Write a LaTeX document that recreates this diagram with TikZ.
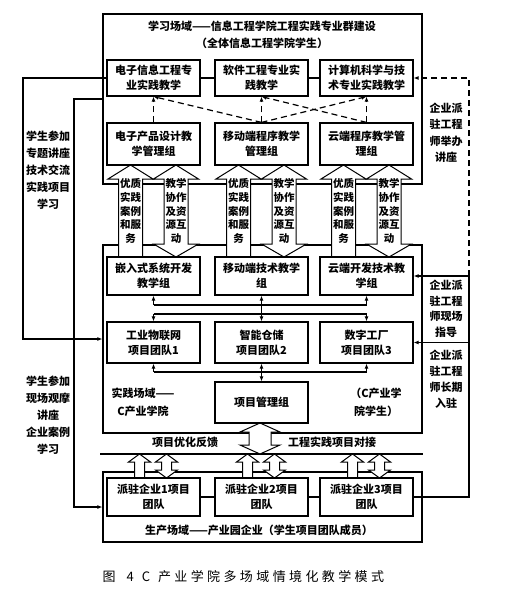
\documentclass[tikz,border=0pt]{standalone}
\usepackage{fontspec}
\setmainfont{Noto Sans CJK SC}
\usetikzlibrary{arrows.meta}

\begin{document}
\begin{tikzpicture}[x=1pt, y=-1pt, line width=1.2pt,
  font=\bfseries\fontsize{11}{15}\selectfont,
  field/.style={draw, minimum width=319pt, inner sep=0pt},
  unit/.style={draw, fill=white, minimum width=93pt, minimum height=38pt, align=center, inner sep=1pt},
  hollow/.style={draw, fill=white, line width=1pt, line join=miter},
  tip/.style={-{Latex[length=5pt,width=4pt]}},
  dtip/.style={{Latex[length=5pt,width=4pt]}-{Latex[length=5pt,width=4pt]}},
  guide/.style={tip, dash pattern=on 6pt off 4pt},
  side/.style={align=center, inner sep=0pt, font=\bfseries\fontsize{11}{17}\selectfont},
  inarrow/.style={align=center, inner sep=0pt, font=\bfseries\fontsize{10.5}{13.8}\selectfont}]
\useasboundingbox (0,0) rectangle (510,591);

% ---- fields --------------------------------------------------------------
\node[field, minimum height=170pt] (learning) at (262.5,99) {};
\node[field, minimum height=188pt] (practice) at (262.5,339) {};
\node[field, minimum height=70pt] (production) at (262.5,507) {};
\draw (100,454) -- (423,454);

\node (title1) at (262,26) {学习场域——信息工程学院工程实践专业群建设};
\node (title2) at (262,43) {（全体信息工程学院学生）};
\node[align=center, font=\bfseries\fontsize{11}{18}\selectfont] (praclbl) at (143,402) {实践场域——\\C产业学院};
\node[align=center, font=\bfseries\fontsize{11}{18}\selectfont] (pracstu) at (376,402) {（C产业学\\院学生）};
\node (prodlbl) at (259,530) {生产场域——产业园企业（学生项目团队成员）};

% ---- hollow arrows between the fields ------------------------------------
\foreach \cx/\n in {153.5/a, 261.5/b, 366.5/c} {
  \filldraw[hollow] (\cx-35,257) -- (\cx-35,179) -- (\cx-45.5,179) -- (\cx-23,165)
    -- (\cx-0.5,179) -- (\cx-11,179) -- (\cx-11,257);
  \filldraw[hollow] (\cx+10.5,179) -- (\cx+10.5,244) -- (\cx,244) -- (\cx+22.5,257)
    -- (\cx+45,244) -- (\cx+34.5,244) -- (\cx+34.5,179) -- (\cx+45,179)
    -- (\cx+22.5,165) -- (\cx,179) -- cycle;
  \node[inarrow] (case\n) at (\cx-23,211) {优质\\实践\\案例\\和服\\务};
  \node[inarrow] (share\n) at (\cx+22.5,211) {教学\\协作\\及资\\源互\\动};
  % small arrows to the enterprise teams
  \filldraw[hollow] (\cx-19,478) -- (\cx-19,462) -- (\cx-25,462) -- (\cx-14,454)
    -- (\cx-3,462) -- (\cx-9,462) -- (\cx-9,478);
  \filldraw[hollow] (\cx+8,462) -- (\cx+8,470) -- (\cx+2,470) -- (\cx+13,478)
    -- (\cx+24,470) -- (\cx+18,470) -- (\cx+18,462) -- (\cx+24,462)
    -- (\cx+13,454) -- (\cx+2,462) -- cycle;
}
\filldraw[hollow] (249,432) -- (249,445) -- (240,445) -- (260,454) -- (280,445)
  -- (271,445) -- (271,432) -- (280,432) -- (260,423) -- (240,432) -- cycle;
\node (feedback) at (185,442) {项目优化反馈};
\node (docking) at (332,442) {工程实践项目对接};

% ---- units ---------------------------------------------------------------
\node[unit, minimum height=36pt] (r1a) at (153.5,78) {电子信息工程专\\业实践教学};
\node[unit, minimum height=36pt] (r1b) at (261.5,78) {软件工程专业实\\践教学};
\node[unit, minimum height=36pt] (r1c) at (366.5,78) {计算机科学与技\\术专业实践教学};
\node[unit, minimum height=42pt] (r2a) at (153.5,144) {电子产品设计教\\学管理组};
\node[unit, minimum height=42pt] (r2b) at (261.5,144) {移动端程序教学\\管理组};
\node[unit, minimum height=42pt] (r2c) at (366.5,144) {云端程序教学管\\理组};
\node[unit] (r3a) at (153.5,276) {嵌入式系统开发\\教学组};
\node[unit] (r3b) at (261.5,276) {移动端技术教学\\组};
\node[unit] (r3c) at (366.5,276) {云端开发技术教\\学组};
\node[unit, minimum height=41pt] (r4a) at (153.5,342.5) {工业物联网\\项目团队1};
\node[unit, minimum height=41pt] (r4b) at (261.5,342.5) {智能仓储\\项目团队2};
\node[unit, minimum height=41pt] (r4c) at (366.5,342.5) {数字工厂\\项目团队3};
\node[unit, minimum height=41pt] (pm) at (261.5,402.5) {项目管理组};
\node[unit] (r5a) at (153.5,497) {派驻企业1项目\\团队};
\node[unit] (r5b) at (261.5,497) {派驻企业2项目\\团队};
\node[unit] (r5c) at (366.5,497) {派驻企业3项目\\团队};

\draw (r1a) -- (r1b);
\draw (r1b) -- (r1c);
\draw (r5a) -- (r5b);
\draw (r5b) -- (r5c);
\foreach \s/\t in {a/a, b/a, b/b, b/c, c/b, c/c}
  \draw[guide] (r2\s.north) -- (r1\t.south);

% ---- buses between units -------------------------------------------------
\coordinate (busA) at (0,305);
\coordinate (busB) at (0,314);
\coordinate (busC) at (0,372);
\draw (r3a.south |- busA) -- (r3c.south |- busA);
\draw (r4a.north |- busB) -- (r4c.north |- busB);
\draw (r4a.south |- busC) -- (r4c.south |- busC);
\foreach \n in {a,c} {
  \draw[tip] (r3\n.south |- busA) -- (r3\n.south);
  \draw[tip] (r4\n.north |- busB) -- (r4\n.north);
  \draw[tip] (r4\n.south |- busC) -- (r4\n.south);
}
\draw[dtip] (r3b.south) -- (r4b.north);
\draw[dtip] (r4b.south) -- (pm.north);

% ---- students (left) -----------------------------------------------------
\coordinate (outerL) at (23,0);
\coordinate (innerL) at (74,0);
\draw[tip] (r1a.west) -- (r1a.west -| outerL) |- (practice.west);
\draw[tip] (learning.west) -- (learning.west -| innerL) |- (production.west);
\node[side] (stulecture) at (48,170) {学生参加\\专题讲座\\技术交流\\实践项目\\学习};
\node[side] (stusite) at (48,415.5) {学生参加\\现场观摩\\讲座\\企业案例\\学习};

% ---- engineers (right) ---------------------------------------------------
\coordinate (rightR) at (469,0);
\draw[guide] (r3c.east -| rightR) -- (r1c.east -| rightR) -- (r1c.east);
\draw[tip] (r5c.east) -- (r5c.east -| rightR) -- (r3c.east -| rightR) -- (r3c.east);
\draw[tip] (r4c.east -| rightR) -- (r4c.east);
\node[side, font=\bfseries\fontsize{11}{16.5}\selectfont] (englecture) at (446,133) {企业派\\驻工程\\师举办\\讲座};
\node[side, font=\bfseries\fontsize{11}{15.5}\selectfont] (engguide) at (446,309) {企业派\\驻工程\\师现场\\指导};
\node[side, font=\bfseries\fontsize{11}{16}\selectfont] (engstay) at (446,379) {企业派\\驻工程\\师长期\\入驻};

% ---- caption -------------------------------------------------------------
\node[anchor=west, inner sep=0pt, font=\fontsize{13}{15}\selectfont\addfontfeature{LetterSpace=26}] (caption) at (102,577)
  {图\hspace{11pt}4\hspace{8pt}C\hspace{8pt}产业学院多场域情境化教学模式};
\end{tikzpicture}
\end{document}
